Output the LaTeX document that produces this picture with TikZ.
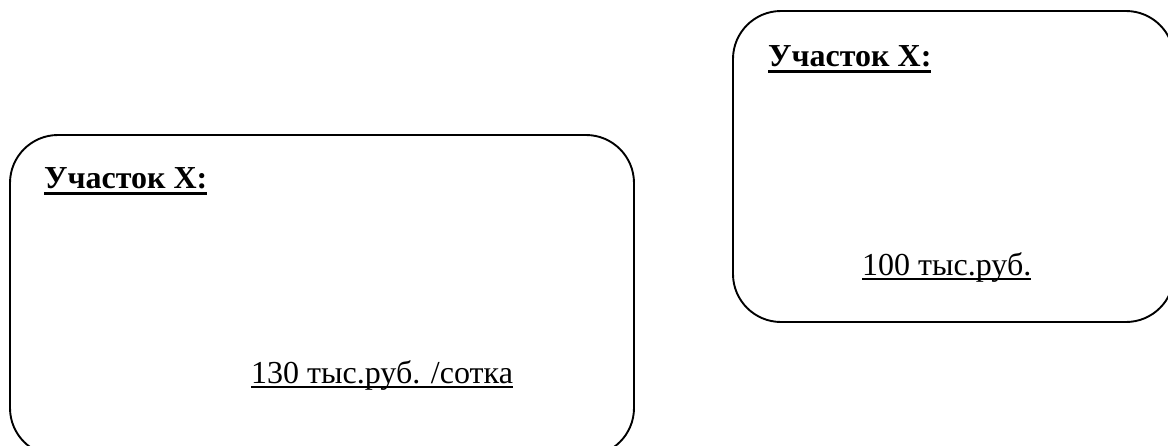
\documentclass[tikz,border=0pt]{standalone}
\usepackage{fontspec}
\setmainfont{Liberation Serif}
\newcommand\ulbox[3]{\setbox0=\hbox{#3}\leavevmode\rlap{\rule[-#1]{\wd0}{#2}}\box0}
\tikzset{
  plot box/.style={draw=black, line width=1.9pt, rounded corners=48pt},
  title/.style={anchor=base west, inner sep=0pt, font=\fontsize{32}{36}\selectfont\bfseries},
  price/.style={anchor=base west, inner sep=0pt, font=\fontsize{32}{36}\selectfont},
}
\begin{document}
\begin{tikzpicture}[x=1pt,y=-1pt]
\useasboundingbox (0,0) rectangle (1168,445);
\clip (0,0) rectangle (1168,445);
\fill[white] (0,0) rectangle (1168,445);
\draw[plot box] (10,135) rectangle (634,456);
\draw[plot box] (733,11) rectangle (1174,322);
\node[title] (t1) at (44,188) {\ulbox{7pt}{3.5pt}{Участок Х:}};
\node[title] (t2) at (768,66) {\ulbox{7pt}{3.5pt}{Участок Х:}};
\node[price] (p1) at (251,383) {\ulbox{4.5pt}{2pt}{130 тыс.руб. /сотка}};
\node[price] (p2) at (862,275) {\ulbox{4.5pt}{2pt}{100 тыс.руб.}};
\end{tikzpicture}
\end{document}
